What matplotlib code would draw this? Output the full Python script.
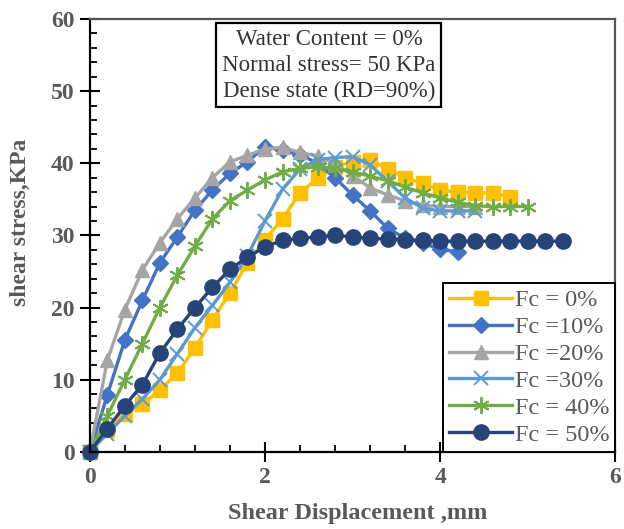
import matplotlib
matplotlib.use('Agg')
import matplotlib.pyplot as plt
from matplotlib.ticker import MultipleLocator

plt.rcParams['font.family'] = ['Liberation Serif', 'DejaVu Serif']

# shear displacement (mm) and shear stress (kPa) for each fines content
x_fc0 = [0, 0.2, 0.4, 0.6, 0.8, 1.0, 1.2, 1.4, 1.6, 1.8, 2.0, 2.2, 2.4, 2.6, 2.8,
         3.0, 3.2, 3.4, 3.6, 3.8, 4.0, 4.2, 4.4, 4.6, 4.8]
y_fc0 = [0, 3.0, 5.2, 6.6, 8.6, 10.9, 14.4, 18.3, 22.0, 26.2, 29.4, 32.3, 35.9, 37.9,
         39.5, 40.2, 40.5, 39.2, 38.0, 37.2, 36.3, 36.0, 35.9, 35.9, 35.3]

x_fc10 = [0, 0.2, 0.4, 0.6, 0.8, 1.0, 1.2, 1.4, 1.6, 1.8, 2.0, 2.2, 2.4, 2.6, 2.8,
          3.0, 3.2, 3.4, 3.6, 3.8, 4.0, 4.2]
y_fc10 = [0, 7.9, 15.5, 21.0, 26.2, 29.8, 33.5, 36.3, 38.6, 40.2, 42.3, 41.8, 41.2,
          40.0, 38.0, 35.6, 33.4, 31.0, 29.6, 28.9, 28.1, 27.7]

x_fc20 = [0, 0.2, 0.4, 0.6, 0.8, 1.0, 1.2, 1.4, 1.6, 1.8, 2.0, 2.2, 2.4, 2.6, 2.8,
          3.0, 3.2, 3.4, 3.6, 3.8, 4.0, 4.2, 4.4]
y_fc20 = [0, 12.7, 19.7, 25.2, 29.0, 32.3, 35.2, 38.0, 40.2, 41.1, 42.0, 42.2, 41.5,
          41.0, 40.0, 38.3, 36.6, 35.6, 34.8, 34.2, 34.0, 34.0, 34.0]

x_fc30 = [0, 0.2, 0.4, 0.6, 0.8, 1.0, 1.2, 1.4, 1.6, 1.8, 2.0, 2.2, 2.4, 2.6, 2.8,
          3.0, 3.2, 3.4, 3.6, 3.8, 4.0, 4.2, 4.4]
y_fc30 = [0, 2.5, 5.0, 7.3, 10.0, 13.6, 17.2, 20.3, 23.5, 27.2, 32.0, 36.4, 39.2,
          40.5, 40.8, 40.9, 39.8, 37.5, 35.2, 33.8, 33.4, 33.4, 33.4]

x_fc40 = [0, 0.2, 0.4, 0.6, 0.8, 1.0, 1.2, 1.4, 1.6, 1.8, 2.0, 2.2, 2.4, 2.6, 2.8,
          3.0, 3.2, 3.4, 3.6, 3.8, 4.0, 4.2, 4.4, 4.6, 4.8, 5.0]
y_fc40 = [0, 5.0, 10.0, 15.0, 20.0, 24.5, 28.5, 32.3, 34.8, 36.3, 37.7, 38.8, 39.3,
          39.5, 39.3, 38.8, 38.2, 37.6, 36.7, 35.9, 35.2, 34.6, 34.1, 34.0, 34.0, 34.0]

x_fc50 = [0, 0.2, 0.4, 0.6, 0.8, 1.0, 1.2, 1.4, 1.6, 1.8, 2.0, 2.2, 2.4, 2.6, 2.8,
          3.0, 3.2, 3.4, 3.6, 3.8, 4.0, 4.2, 4.4, 4.6, 4.8, 5.0, 5.2, 5.4]
y_fc50 = [0, 3.2, 6.4, 9.3, 13.7, 17.0, 20.0, 22.8, 25.3, 27.0, 28.4, 29.3, 29.6,
          29.8, 30.0, 29.8, 29.6, 29.5, 29.4, 29.3, 29.2, 29.2, 29.2, 29.2, 29.2,
          29.2, 29.2, 29.2]

labels = ['Fc = 0%', 'Fc =10%', 'Fc =20%', 'Fc =30%', 'Fc = 40%', 'Fc = 50%']

fig = plt.figure(figsize=(6.24, 5.29), dpi=100)
ax = fig.add_axes([0.144, 0.146, 0.842, 0.818])

ax.plot(x_fc0, y_fc0, color='#FFC000', marker='s', ms=9.5, lw=2.4, label=labels[0], clip_on=False)
ax.plot(x_fc10, y_fc10, color='#4472C4', marker='D', ms=8, lw=2.4, label=labels[1], clip_on=False)
ax.plot(x_fc20, y_fc20, color='#A5A5A5', marker='^', ms=10, lw=2.4, label=labels[2], clip_on=False)
ax.plot(x_fc30, y_fc30, color='#5B9BD5', marker='x', ms=10, mew=1.4, lw=2.4, label=labels[3], clip_on=False)
ax.plot(x_fc40, y_fc40, color='#70AD47', marker=(6, 2, 0), ms=12, mew=1.4, lw=2.4, label=labels[4], clip_on=False)
ax.plot(x_fc50, y_fc50, color='#264478', marker='o', ms=11, lw=2.4, label=labels[5], clip_on=False)

ax.set_xlim(0, 6)
ax.set_ylim(0, 60)
ax.xaxis.set_major_locator(MultipleLocator(2))
ax.xaxis.set_minor_locator(MultipleLocator(0.4))
ax.yaxis.set_major_locator(MultipleLocator(10))
ax.yaxis.set_minor_locator(MultipleLocator(2))
ax.tick_params(which='major', direction='inout', length=14, width=1.5, color='black',
               labelsize=17, labelcolor='#595959', pad=4)
ax.tick_params(which='minor', direction='in', length=5, width=1.3, color='black')
for lab in ax.get_xticklabels() + ax.get_yticklabels():
    lab.set_fontweight('bold')

for side in ['left', 'bottom']:
    ax.spines[side].set_linewidth(1.6)
    ax.spines[side].set_color('black')
for side in ['top', 'right']:
    ax.spines[side].set_linewidth(1.6)
    ax.spines[side].set_color('#555555')

ax.set_xlabel('Shear Displacement ,mm', fontsize=17.5, fontweight='bold', color='#595959')
ax.set_ylabel('shear stress,KPa', fontsize=17, fontweight='bold', color='#595959')
ax.xaxis.set_label_coords(0.509, -0.118)
ax.yaxis.set_label_coords(-0.112, 0.53)

ax.text(0.455, 0.893, 'Water Content = 0%\nNormal stress= 50 KPa\nDense state (RD=90%)',
        transform=ax.transAxes, ha='center', va='center', fontsize=16.5, color='#333333',
        linespacing=1.3, multialignment='center',
        bbox=dict(boxstyle='square,pad=0.25', fc='white', ec='black', lw=1.6))

leg = ax.legend(loc='lower right', bbox_to_anchor=(1.0, 0.0), fontsize=17.5, frameon=True,
                fancybox=False, edgecolor='black', framealpha=1, handlelength=2.6,
                handletextpad=0.1, labelspacing=0.2, borderpad=0.25, borderaxespad=0)
leg.get_frame().set_linewidth(1.4)
for t in leg.get_texts():
    t.set_color('#595959')

plt.savefig('out.png', dpi=100)
